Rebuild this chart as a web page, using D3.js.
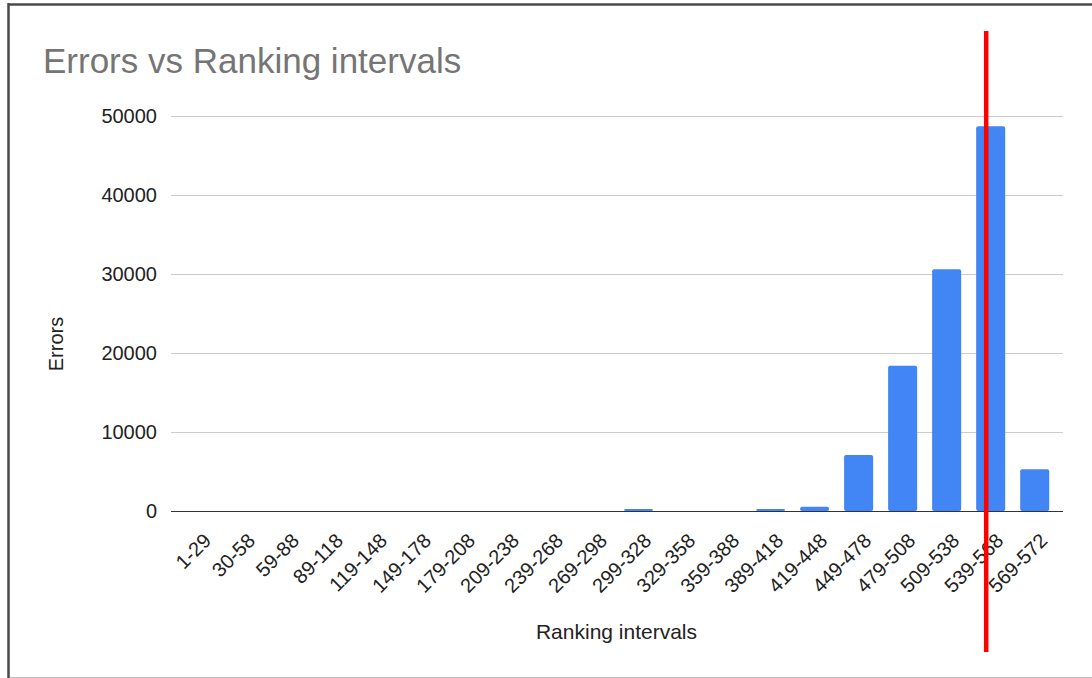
<!DOCTYPE html>
<html>
<head>
<meta charset="utf-8">
<script src="https://cdn.jsdelivr.net/npm/d3@7"></script>
<style>
  html, body { margin: 0; padding: 0; background: #fff; }
  svg { display: block; font-family: "Liberation Sans", Arial, sans-serif; }
</style>
</head>
<body>
<div id="chart"></div>
<script>
// data
const categories = ['1-29', '30-58', '59-88', '89-118', '119-148', '149-178', '179-208',
  '209-238', '239-268', '269-298', '299-328', '329-358', '359-388', '389-418',
  '419-448', '449-478', '479-508', '509-538', '539-568', '569-572'];
const errors = [0, 0, 0, 0, 0, 0, 0, 0, 0, 0, 250, 0, 0, 250, 550, 7100, 18400, 30600, 48700, 5300];
const yTicks = [0, 10000, 20000, 30000, 40000, 50000];
const markedCategory = '539-568';

const width = 1092, height = 678;
const plot = { left: 171, right: 1062, top: 116, bottom: 511 };

const svg = d3.select('#chart').append('svg')
  .attr('width', width)
  .attr('height', height);

// frame of the screenshot
svg.append('line').attr('x1', 8).attr('x2', width).attr('y1', 4.5).attr('y2', 4.5)
  .attr('stroke', '#4a4a4a').attr('stroke-width', 2.5);
svg.append('line').attr('x1', 8.5).attr('x2', 8.5).attr('y1', 3).attr('y2', 678)
  .attr('stroke', '#4a4a4a').attr('stroke-width', 2.5);
svg.append('line').attr('x1', 10).attr('x2', width).attr('y1', 677.5).attr('y2', 677.5)
  .attr('stroke', '#bdbdbd').attr('stroke-width', 1);

const x = d3.scaleBand()
  .domain(categories)
  .range([plot.left, plot.right])
  .paddingInner(0.34)
  .paddingOuter(0.29);

const y = d3.scaleLinear()
  .domain([0, 50000])
  .range([plot.bottom, plot.top]);

// title
svg.append('text')
  .attr('x', 43).attr('y', 73)
  .attr('fill', '#757575')
  .style('font-size', '35px')
  .text('Errors vs Ranking intervals');

// gridlines + y labels
const yAxis = svg.append('g')
  .attr('transform', `translate(${plot.left},0)`)
  .call(d3.axisLeft(y).tickValues(yTicks).tickSize(-(plot.right - plot.left + 1)).tickPadding(14).tickFormat(d3.format('d')));
yAxis.select('.domain').remove();
yAxis.selectAll('line').attr('stroke', d => d === 0 ? '#333' : '#cccccc').attr('stroke-width', 1);
yAxis.selectAll('text')
  .attr('fill', '#222')
  .style('font-size', '20px')
  .style('font-family', '"Liberation Sans", Arial, sans-serif');

// bars
svg.append('g')
  .selectAll('rect')
  .data(categories.map((c, i) => ({ c, v: errors[i] })).filter(d => d.v > 0))
  .join('rect')
  .attr('x', d => x(d.c))
  .attr('y', d => y(d.v))
  .attr('width', x.bandwidth())
  .attr('height', d => y(0) - y(d.v))
  .attr('rx', 2)
  .attr('fill', '#4285f4');

// zero line on top
svg.append('line')
  .attr('x1', plot.left).attr('x2', plot.right + 1)
  .attr('y1', y(0) + 0.5).attr('y2', y(0) + 0.5)
  .attr('stroke', '#333').attr('stroke-width', 1.2);

// x labels, rotated
svg.append('g')
  .selectAll('text')
  .data(categories)
  .join('text')
  .attr('transform', d => `translate(${x(d) + x.bandwidth() / 2 + 14},${plot.bottom + 31}) rotate(-45)`)
  .attr('text-anchor', 'end')
  .attr('fill', '#222')
  .style('font-size', '20px')
  .text(d => d);

// axis titles
svg.append('text')
  .attr('x', (plot.left + plot.right) / 2)
  .attr('y', 639)
  .attr('text-anchor', 'middle')
  .attr('fill', '#222')
  .style('font-size', '21px')
  .text('Ranking intervals');

svg.append('text')
  .attr('transform', 'translate(63,344) rotate(-90)')
  .attr('text-anchor', 'middle')
  .attr('fill', '#222')
  .style('font-size', '20px')
  .text('Errors');

// red marker line drawn over the chart
const markX = x(markedCategory) + x.bandwidth() / 2 - 4.5;
svg.append('line')
  .attr('x1', markX).attr('x2', markX)
  .attr('y1', 31).attr('y2', 652)
  .attr('stroke', '#ff0000')
  .attr('stroke-width', 4.5);
</script>
</body>
</html>
